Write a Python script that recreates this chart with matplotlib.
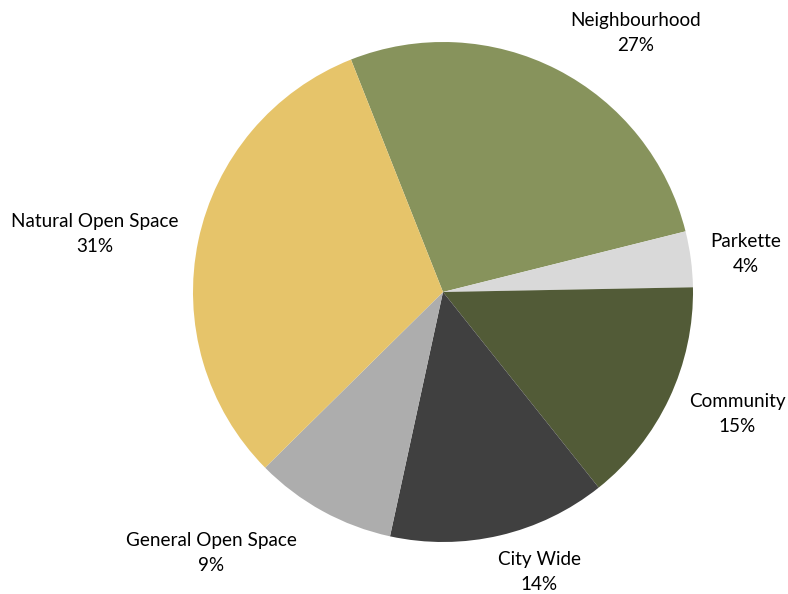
import matplotlib
matplotlib.use("Agg")
import matplotlib.pyplot as plt

# ── Data ──────────────────────────────────────────────────────────────────────
categories = ["Neighbourhood", "Parkette", "Community", "City Wide",
              "General Open Space", "Natural Open Space"]
shares = [27.1, 3.6, 14.6, 14.1, 9.2, 31.4]
colors = ["#87935C", "#D9D9D9", "#525B37", "#404040", "#ADADAD", "#E6C46A"]

# label centres in pixels (x, y from top)
label_pos = [(636, 33), (746, 254), (737, 414), (539, 572), (211, 553), (95, 234)]

W, H = 788, 594
fig = plt.figure(figsize=(W / 100, H / 100), dpi=100, facecolor="white")

cx, cy, r = 443, 292, 250
ax = fig.add_axes([(cx - r) / W, (H - cy - r) / H, 2 * r / W, 2 * r / H])
ax.pie(shares, colors=colors, startangle=111.6, counterclock=False,
       radius=1.0, wedgeprops=dict(linewidth=0))
ax.set_xlim(-1, 1)
ax.set_ylim(-1, 1)
ax.set_aspect("equal")
ax.axis("off")

total = sum(shares)
for name, val, (px, py) in zip(categories, shares, label_pos):
    fig.text(px / W, 1 - py / H, f"{name}\n{val / total * 100:.0f}%",
             ha="center", va="center", fontsize=13.6, family="Lato",
             color="#000000", linespacing=1.55)

fig.savefig("out.png", dpi=100, facecolor="white")
